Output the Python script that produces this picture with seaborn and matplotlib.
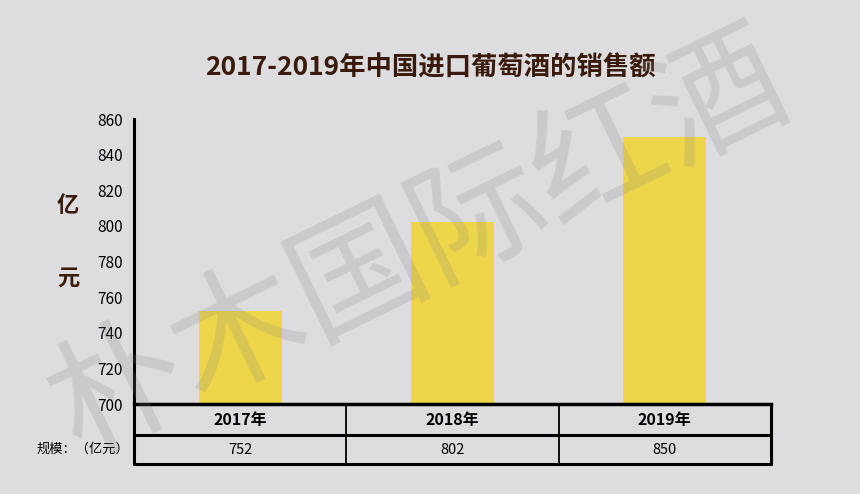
import matplotlib
matplotlib.use("Agg")
import seaborn as sns
import matplotlib.pyplot as plt

# data
years = ["2017年", "2018年", "2019年"]
sales = [752, 802, 850]
yticks = [700, 720, 740, 760, 780, 800, 820, 840, 860]

bg = "#dddde0"
brown = "#3a1a0c"

sns.set_style("white")
plt.rcParams["font.family"] = ["Noto Sans CJK SC", "DejaVu Sans"]

fig = plt.figure(figsize=(8.6, 4.94), dpi=100, facecolor=bg)
ax = fig.add_axes([134 / 860, 1 - 404 / 494, (771 - 134) / 860, 285 / 494])
ax.set_facecolor(bg)

sns.barplot(x=years, y=sales, color="#eed64a", saturation=1, width=0.39,
            edgecolor="none", linewidth=0, ax=ax)

ax.set_xlim(-0.5, 2.5)
ax.set_ylim(700, 860)
ax.set_yticks(yticks)
ax.set_yticklabels([str(t) for t in yticks], fontsize=11, color="black")
ax.tick_params(axis="y", direction="in", length=7, width=2.2, pad=8, colors="black")
ax.tick_params(axis="x", bottom=False, labelbottom=False)
ticks = ax.yaxis.get_major_ticks()
ticks[0].tick1line.set_visible(False)
ticks[-1].tick1line.set_visible(False)
ax.set_xlabel("")
ax.set_ylabel("")

for s in ["top", "right"]:
    ax.spines[s].set_visible(False)
ax.spines["left"].set_linewidth(2.2)
ax.spines["bottom"].set_linewidth(2.5)
ax.spines["left"].set_color("black")
ax.spines["bottom"].set_color("black")

# table under the axis
h = 285.0
r1 = -31 / h
r2 = -60 / h
tr = ax.get_xaxis_transform()
ax.plot([-0.5, -0.5], [0, r2], color="black", lw=2.2, transform=tr, clip_on=False)
ax.plot([2.5, 2.5], [0, r2], color="black", lw=2.2, transform=tr, clip_on=False)
ax.plot([-0.5, 2.5], [r1, r1], color="black", lw=2.2, transform=tr, clip_on=False)
ax.plot([-0.5, 2.5], [r2, r2], color="black", lw=2.2, transform=tr, clip_on=False)
for xb in [0.5, 1.5]:
    ax.plot([xb, xb], [0, r2], color="black", lw=1.3, transform=tr, clip_on=False)
for i, (yr, v) in enumerate(zip(years, sales)):
    ax.text(i, r1 / 2, yr, ha="center", va="center", fontsize=11.5, fontweight="bold",
            color="black", transform=tr)
    ax.text(i, (r1 + r2) / 2, str(v), ha="center", va="center", fontsize=10.5,
            color="black", transform=tr)
ax.text(-0.52, (r1 + r2) / 2, "规模：（亿元）", ha="right", va="center", fontsize=9.5,
        color="black", transform=tr)

# title and unit label
fig.text(0.5, 1 - 68 / 494, "2017-2019年中国进口葡萄酒的销售额", ha="center", va="center",
         fontsize=19, fontweight="bold", color=brown)
fig.text(68 / 860, 1 - 205 / 494, "亿", ha="center", va="center", fontsize=16,
         fontweight="bold", color=brown)
fig.text(68 / 860, 1 - 278 / 494, "元", ha="center", va="center", fontsize=16,
         fontweight="bold", color=brown)

# watermark
fig.text(420 / 860, 1 - 246 / 494, "朴木国际红酒", ha="center", va="center", fontsize=96,
         rotation=26, color="#808080", alpha=0.2, zorder=10)

fig.savefig("out.png", dpi=100, facecolor=bg)
